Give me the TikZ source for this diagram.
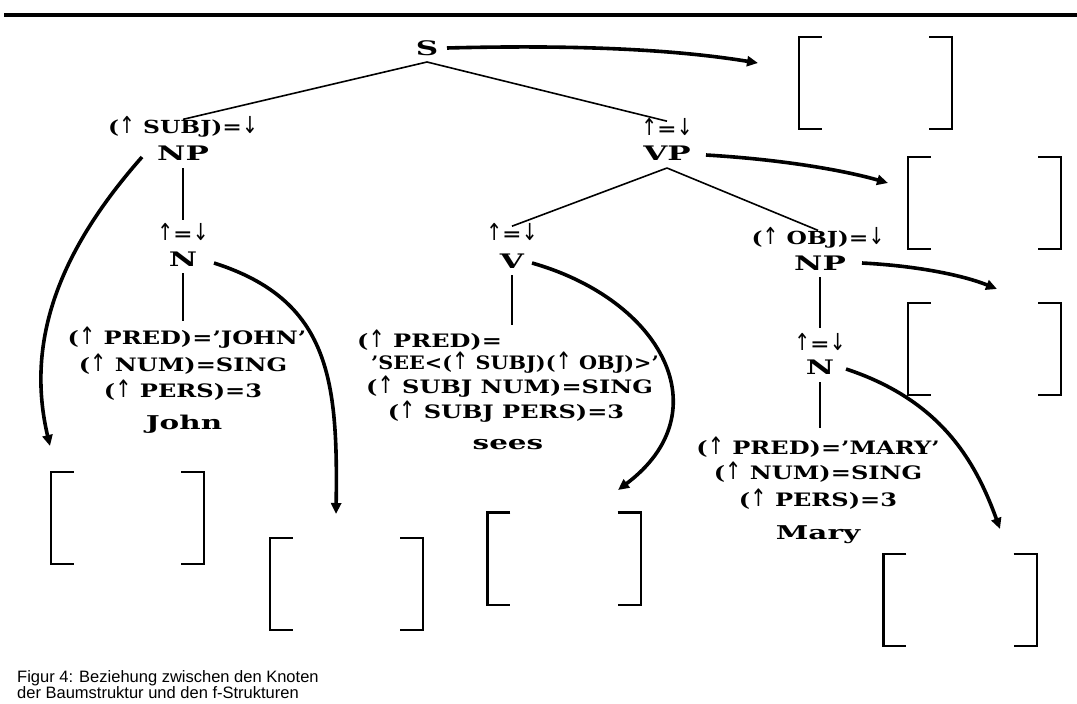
\documentclass[tikz,border=0pt]{standalone}
\usepackage{fontspec}
\setmainfont{DejaVu Serif}[FakeStretch=1.3]
\newfontfamily\catfont{DejaVu Serif}[FakeStretch=1.55, Ligatures=TeX]
\newfontfamily\narrowfont{DejaVu Serif}[FakeStretch=1.12, Ligatures=TeX]
\newfontfamily\arrfont{DejaVu Sans}
\newfontfamily\capfont{Liberation Sans}
\usetikzlibrary{arrows.meta}
\newcommand{\uarr}{\scalebox{1.05}[1.3]{\arrfont\mdseries ↑}}
\newcommand{\darr}{\scalebox{1.05}[1.3]{\arrfont\mdseries ↓}}
\tikzset{
  cat/.style={font=\catfont\bfseries\fontsize{20}{20}\selectfont, inner sep=0pt},
  ann/.style={font=\bfseries\fontsize{18}{18}\selectfont, inner sep=0pt},
  feat/.style={font=\bfseries\fontsize{18.5}{18.5}\selectfont, inner sep=0pt},
  word/.style={font=\catfont\bfseries\fontsize{19}{19}\selectfont, inner sep=0pt},
  branch/.style={line width=1.6pt},
  stem/.style={line width=2.6pt},
  link/.style={line width=3.6pt, -{Triangle[length=11pt,width=10pt]}},
  fstr/.style={minimum width=153pt, minimum height=92pt, inner sep=0pt},
  brk/.style={line width=2.4pt},
}
\begin{document}
\begin{tikzpicture}[x=1pt, y=-1pt]
\useasboundingbox (0,0) rectangle (1077,704);

% rule across the top
\draw[line width=4pt] (4,14.5) -- (1077,14.5);

% ---- tree nodes ----
\node[cat] (S) at (427,48) {S};
\coordinate (Sb) at (427,62);

\node[ann] (a1) at (183,127) {(\uarr{} SUBJ)=\darr};
\node[cat] (NP1) at (183,153) {NP};
\node[ann] (a2) at (183,232) {\uarr=\darr};
\node[cat] (N1) at (183,259) {N};
\node[feat] (j1) at (187,338) {(\uarr{} PRED)='JOHN'};
\node[feat] (j2) at (183,364) {(\uarr{} NUM)=SING};
\node[feat] (j3) at (183,390) {(\uarr{} PERS)=3};
\node[word] (john) at (184,424) {John};

\node[ann] (a3) at (667,127) {\uarr=\darr};
\node[cat] (VP) at (667,153) {VP};

\node[ann] (a4) at (512,232) {\uarr=\darr};
\node[cat] (V) at (512,261) {V};
\node[feat, anchor=west] (v1) at (357,340) {(\uarr{} PRED)=};
\node[feat, anchor=west] (v2) at (371,363) {\narrowfont 'SEE<(\uarr{} SUBJ)(\uarr{} OBJ)>'};
\node[feat, anchor=west] (v3) at (366,387) {(\uarr{} SUBJ NUM)=SING};
\node[feat] (v4) at (506,412) {(\uarr{} SUBJ PERS)=3};
\node[word] (sees) at (508,445) {sees};

\node[ann] (a5) at (818,238) {(\uarr{} OBJ)=\darr};
\node[cat] (NP2) at (820,263) {NP};
\node[ann] (a6) at (820,342) {\uarr=\darr};
\node[cat] (N2) at (820,367) {N};
\node[feat] (m1) at (818,447) {(\uarr{} PRED)='MARY'};
\node[feat] (m2) at (818,472) {(\uarr{} NUM)=SING};
\node[feat] (m3) at (818,499) {(\uarr{} PERS)=3};
\node[word] (mary) at (818,535) {Mary};

% ---- tree branches ----
\draw[branch] (Sb) -- ([yshift=-3pt]a1.north);
\draw[branch] (Sb) -- ([yshift=-3pt]a3.north);
\coordinate (VPb) at (667,168);
\draw[branch] (VPb) -- ([yshift=-3pt]a4.north);
\draw[branch] (VPb) -- ([yshift=-3pt]a5.north);
\draw[stem] (183,168) -- (183,220);
\draw[stem] (183,273) -- (183,321);
\draw[stem] (512,275) -- (512,325);
\draw[stem] (820,277) -- (820,328);
\draw[stem] (820,382) -- (820,428);

% ---- f-structure brackets ----
\node[fstr] (fS)   at (875.5,83)  {};
\node[fstr] (fVP)  at (984.5,203) {};
\node[fstr] (fNP2) at (984.5,349) {};
\node[fstr] (fNP1) at (127.5,518) {};
\node[fstr] (fN1)  at (346.5,584) {};
\node[fstr] (fV)   at (564,558.5) {};
\node[fstr] (fN2)  at (960,600)  {};
\foreach \f in {fS,fVP,fNP2,fNP1,fN1,fV,fN2}{
  \draw[brk] ([xshift=23pt]\f.north west) -- (\f.north west) -- (\f.south west) -- ([xshift=23pt]\f.south west);
  \draw[brk] ([xshift=-23pt]\f.north east) -- (\f.north east) -- (\f.south east) -- ([xshift=-23pt]\f.south east);
}

% ---- correspondence arrows ----
\coordinate (tS)   at (758,63);
\coordinate (tVP)  at (888,183);
\coordinate (tNP2) at (997,289);
\coordinate (tNP1) at (50,446);
\coordinate (tN1)  at (336,514);
\coordinate (tV)   at (618,490);
\coordinate (tN2)  at (1000,529);

\draw[link] (447,48) coordinate (sS) .. controls (600,44) and (690,52) .. (tS);
\draw[link] (706,155) coordinate (sVP) .. controls (790,160) and (850,172) .. (tVP);
\draw[link] (862,263) coordinate (sNP2) .. controls (920,266) and (965,276) .. (tNP2);
\draw[link] (142,157) coordinate (sNP1) .. controls (60,250) and (25,340) .. (tNP1);
\draw[link] (214,263) coordinate (sN1) .. controls (330,300) and (338,380) .. (tN1);
\draw[link] (532,263) coordinate (sV) .. controls (662,300) and (722,412) .. (tV);
\draw[link] (846,369) coordinate (sN2) .. controls (940,400) and (975,460) .. (tN2);

% ---- caption ----
\node[anchor=north west, align=left, inner sep=0pt,
      font=\capfont\fontsize{16.5}{15}\selectfont] (cap) at (17,670)
  {Figur 4: Beziehung zwischen den Knoten\\der Baumstruktur und den f-Strukturen};
\end{tikzpicture}
\end{document}
